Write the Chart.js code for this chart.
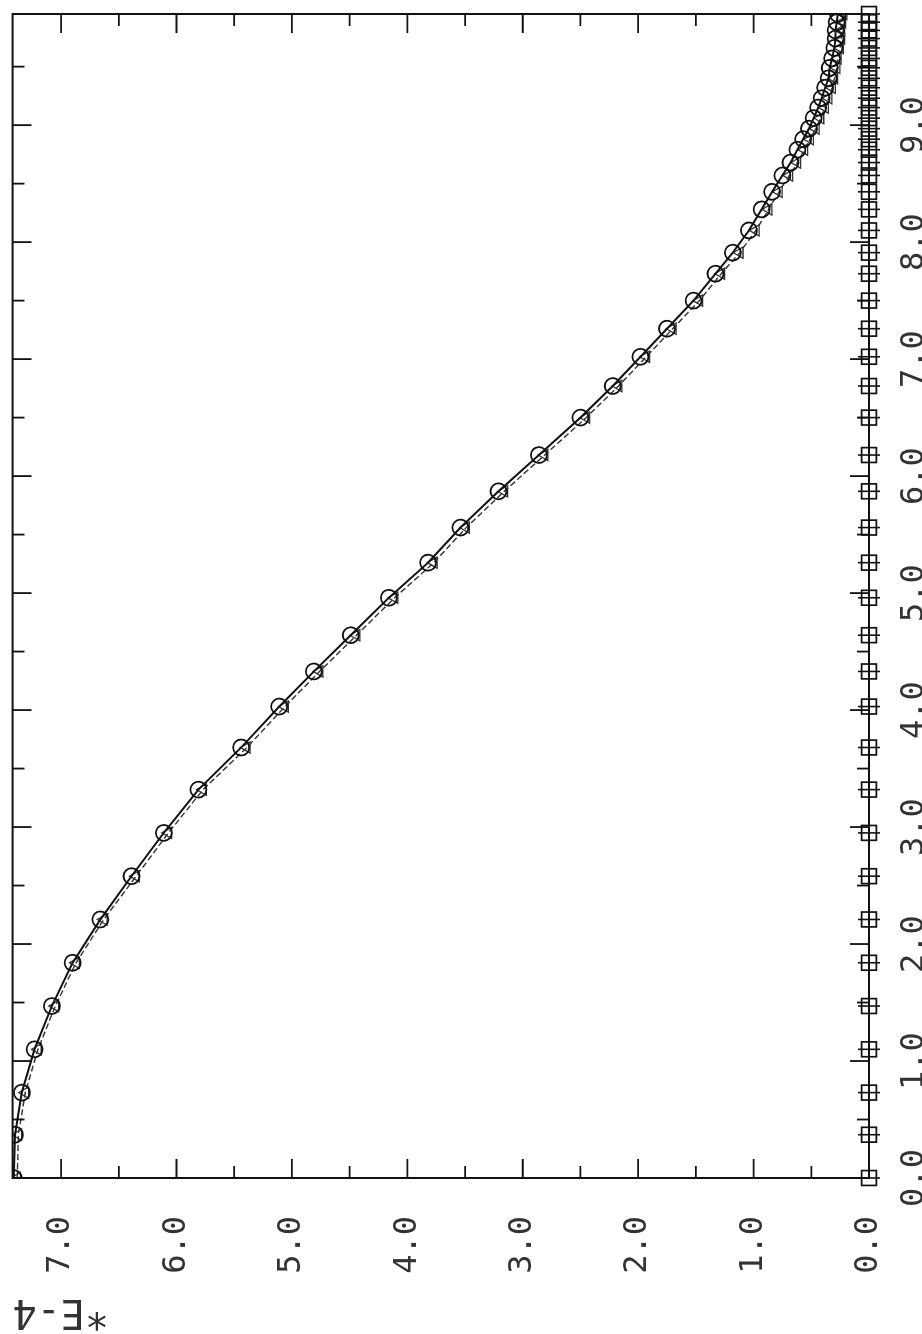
<!DOCTYPE html>
<html>
<head>
<meta charset="utf-8">
<script src="https://cdn.jsdelivr.net/npm/chart.js@4.4.1/dist/chart.umd.min.js"></script>
<style>
  html, body { margin: 0; padding: 0; background: #fff; }
  #wrap { position: relative; width: 922px; height: 1334px; overflow: hidden; background: #fff; }
  #c { position: absolute; left: 0; top: 0; transform-origin: 0 0; transform: translate(0, 1334px) rotate(-90deg); }
</style>
</head>
<body>
<div id="wrap"><canvas id="c" width="1334" height="922"></canvas></div>
<script>
// values (y in units of 1E-4)
const xs = [0, 0.37, 0.73, 1.10, 1.47, 1.84, 2.21, 2.58, 2.95, 3.32, 3.68, 4.03, 4.33, 4.64, 4.96, 5.26,
  5.56, 5.87, 6.18, 6.50, 6.77, 7.02, 7.26, 7.50, 7.73, 7.91, 8.10, 8.28, 8.43, 8.57, 8.68, 8.79, 8.88,
  8.97, 9.06, 9.15, 9.23, 9.32, 9.40, 9.49, 9.57, 9.66, 9.74, 9.81, 9.88, 9.95];
const circleY = [7.41, 7.40, 7.34, 7.23, 7.08, 6.90, 6.66, 6.39, 6.11, 5.81, 5.44, 5.11, 4.81, 4.49, 4.16,
  3.82, 3.54, 3.21, 2.86, 2.50, 2.22, 1.98, 1.75, 1.52, 1.33, 1.18, 1.04, 0.93, 0.84, 0.75, 0.68, 0.62,
  0.57, 0.52, 0.48, 0.44, 0.41, 0.38, 0.35, 0.34, 0.32, 0.30, 0.29, 0.29, 0.28, 0.27];
const triangleY = [7.38, 7.37, 7.31, 7.20, 7.05, 6.87, 6.63, 6.35, 6.07, 5.77, 5.39, 5.06, 4.76, 4.44, 4.11,
  3.77, 3.49, 3.16, 2.81, 2.45, 2.17, 1.93, 1.70, 1.47, 1.28, 1.12, 0.98, 0.87, 0.78, 0.69, 0.62, 0.56,
  0.51, 0.46, 0.42, 0.38, 0.35, 0.32, 0.30, 0.28, 0.27, 0.25, 0.24, 0.24, 0.23, 0.22];
const squareY = [0, 0, 0, 0, 0, 0, 0, 0, 0, 0, 0, 0, 0, 0, 0, 0, 0, 0, 0, 0, 0, 0, 0,
  0, 0, 0, 0, 0, 0, 0, 0, 0, 0, 0, 0, 0, 0, 0, 0, 0, 0, 0, 0, 0, 0, 0];
const xTicks = [0, 1, 2, 3, 4, 5, 6, 7, 8, 9];
const yTicks = [0, 1, 2, 3, 4, 5, 6, 7];
const xMax = 9.95, yMax = 7.42;
const yTitle = '*E-4';

const pts = ys => xs.map((x, i) => ({ x, y: ys[i] }));
const ink = '#111';

// frame + inward tick marks on all four sides (long at whole units, short at halves)
const frameTicks = {
  id: 'frameTicks',
  afterDatasetsDraw(chart) {
    const { ctx, chartArea: a, scales: { x, y } } = chart;
    ctx.save();
    ctx.strokeStyle = ink;
    ctx.lineWidth = 2;
    ctx.strokeRect(a.left, a.top, a.right - a.left, a.bottom - a.top);
    ctx.lineWidth = 1.8;
    ctx.beginPath();
    for (let v = 0; v <= xMax; v += 0.5) {
      const p = x.getPixelForValue(v), len = Number.isInteger(v) ? 19 : 12;
      ctx.moveTo(p, a.bottom); ctx.lineTo(p, a.bottom - len);
      ctx.moveTo(p, a.top); ctx.lineTo(p, a.top + len);
    }
    for (let v = 0; v <= yMax; v += 0.5) {
      const p = y.getPixelForValue(v), len = Number.isInteger(v) ? 19 : 12;
      ctx.moveTo(a.left, p); ctx.lineTo(a.left + len, p);
      ctx.moveTo(a.right, p); ctx.lineTo(a.right - len, p);
    }
    ctx.stroke();
    ctx.restore();
  }
};

const font = { family: 'DejaVu Sans Mono', size: 32 };
const noPad = s => { s.paddingTop = 0; s.paddingBottom = 0; s.paddingLeft = 0; s.paddingRight = 0; };

new Chart(document.getElementById('c'), {
  type: 'scatter',
  data: {
    datasets: [
      { data: pts(circleY), showLine: true, borderColor: ink, borderWidth: 2,
        pointStyle: 'circle', pointRadius: 8, pointBorderWidth: 1.8, pointBackgroundColor: 'rgba(0,0,0,0)', pointBorderColor: ink },
      { data: pts(triangleY), showLine: true, borderColor: '#333', borderWidth: 1.4, borderDash: [6, 3],
        pointStyle: 'triangle', pointRadius: 6.5, pointBorderWidth: 1.3, pointBackgroundColor: 'rgba(0,0,0,0)', pointBorderColor: '#333' },
      { data: pts(squareY), showLine: true, borderColor: ink, borderWidth: 1.8, clip: false,
        pointStyle: 'rect', pointRadius: 10.5, pointBorderWidth: 1.7, pointBackgroundColor: 'rgba(0,0,0,0)', pointBorderColor: ink },
      { data: pts(squareY), showLine: false, clip: false,
        pointStyle: 'line', pointRotation: 90, pointRadius: 11, pointBorderWidth: 1.6, pointBorderColor: ink }
    ]
  },
  options: {
    responsive: false,
    animation: false,
    devicePixelRatio: 1,
    layout: { padding: { top: 9, right: 14, bottom: 0, left: 0 } },
    plugins: { legend: { display: false }, tooltip: { enabled: false } },
    scales: {
      x: {
        type: 'linear', min: 0, max: xMax,
        grid: { display: false, drawTicks: false },
        border: { display: false },
        afterBuildTicks: s => { s.ticks = xTicks.map(v => ({ value: v })); },
        afterFit: s => { s.height = 53; noPad(s); },
        ticks: { padding: 26, color: '#333', font, maxRotation: 0, callback: v => v.toFixed(1) }
      },
      y: {
        type: 'linear', min: 0, max: yMax,
        grid: { display: false, drawTicks: false },
        border: { display: false },
        afterBuildTicks: s => { s.ticks = yTicks.map(v => ({ value: v })); },
        afterFit: s => { s.width = 156; noPad(s); },
        ticks: { padding: 38, color: '#333', font, callback: v => v.toFixed(1) },
        title: { display: true, text: yTitle, align: 'end', color: '#333', padding: 0,
          font: { family: 'DejaVu Sans Mono', size: 40 } }
      }
    }
  },
  plugins: [frameTicks]
});
</script>
</body>
</html>
